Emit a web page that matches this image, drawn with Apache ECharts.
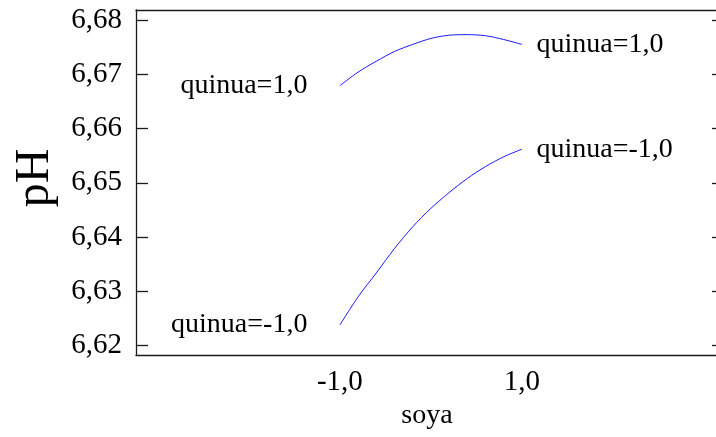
<!DOCTYPE html>
<html>
<head>
<meta charset="utf-8">
<script src="https://cdn.jsdelivr.net/npm/echarts@6/dist/echarts.min.js"></script>
<style>
  html, body { margin: 0; padding: 0; background: #fff; overflow: hidden; }
  #chart { width: 716px; height: 437px; }
</style>
</head>
<body>
<div id="chart"></div>
<script>
// soya levels (coded) at which pH was evaluated
const soya = [-1.0, -0.8, -0.6, -0.4, -0.2, 0.0, 0.2, 0.4, 0.6, 0.8, 1.0];
// predicted pH with quinua at its high level (+1)
const phQuinuaHigh = [6.6679, 6.6704, 6.6724, 6.6742, 6.6755, 6.6766, 6.6772, 6.6773, 6.6771, 6.6764, 6.6755];
// predicted pH with quinua at its low level (-1)
const phQuinuaLow = [6.6238, 6.6290, 6.6334, 6.6379, 6.6419, 6.6453, 6.6482, 6.6508, 6.6530, 6.6548, 6.6562];
// axis ticks
const yTicks = [6.62, 6.63, 6.64, 6.65, 6.66, 6.67, 6.68];
const xTicks = [-1.0, 1.0];
const seriesNames = ['quinua=1,0', 'quinua=-1,0'];

const FONT = '"Liberation Serif", "Times New Roman", serif';
const fmt = v => v.toFixed(v === Math.round(v) ? 1 : 2).replace('.', ',');

// first and last points carry the series name as a label
function buildData(values, name) {
  return soya.map((s, i) => {
    const item = { value: [s, values[i]] };
    if (i === 0) {
      item.label = { show: true, position: 'left', distance: 32, formatter: name };
    } else if (i === soya.length - 1) {
      item.label = { show: true, position: 'right', distance: 14, formatter: name };
    }
    return item;
  });
}

const chart = echarts.init(document.getElementById('chart'));
const axisColor = '#1a1a1a';
const frameLine = { show: true, onZero: false, lineStyle: { color: axisColor, width: 1.3 } };
const innerTicks = { show: true, inside: true, length: 12, customValues: yTicks, lineStyle: { color: axisColor, width: 1.3 } };

function lineSeries(name, values) {
  return {
    name: name, type: 'line', xAxisIndex: 0, yAxisIndex: 0,
    data: buildData(values, name),
    smooth: 0.3, showSymbol: true, showAllSymbol: true, symbol: 'circle', symbolSize: 1,
    clip: false,
    itemStyle: { color: 'rgba(0,0,0,0)' },
    lineStyle: { color: '#1a1aff', width: 1 },
    label: { show: false, fontFamily: FONT, fontSize: 28, color: '#000' },
    emphasis: { disabled: true }
  };
}

chart.setOption({
  animation: false,
  backgroundColor: '#ffffff',
  grid: { left: 136, top: 10, width: 588, height: 345, containLabel: false, outerBoundsMode: 'none' },
  xAxis: [
    {
      type: 'value', position: 'bottom', min: -3.24, max: 3.22,
      name: 'soya', nameLocation: 'middle', nameGap: 41,
      nameTextStyle: { fontFamily: FONT, fontSize: 28, color: '#000', padding: [0, 6, 0, 0] },
      axisLine: frameLine,
      axisTick: { show: false },
      splitLine: { show: false },
      axisLabel: {
        customValues: xTicks, formatter: fmt, margin: 13,
        fontFamily: FONT, fontSize: 29, color: '#000'
      }
    },
    {
      type: 'value', position: 'top', min: -3.24, max: 3.22,
      axisLine: frameLine,
      axisTick: { show: false }, axisLabel: { show: false }, splitLine: { show: false }
    }
  ],
  yAxis: [
    {
      type: 'value', position: 'left', min: 6.61828, max: 6.68184,
      name: 'pH', nameLocation: 'middle', nameGap: 77, nameRotate: 90,
      nameTextStyle: { fontFamily: FONT, fontSize: 48, color: '#000', padding: [0, 0, 0, 9] },
      axisLine: frameLine,
      axisTick: innerTicks,
      splitLine: { show: false },
      axisLabel: {
        customValues: yTicks, formatter: fmt, margin: 14,
        fontFamily: FONT, fontSize: 29, color: '#000'
      }
    },
    {
      type: 'value', position: 'right', min: 6.61828, max: 6.68184,
      axisLine: frameLine,
      axisTick: innerTicks,
      axisLabel: { show: false }, splitLine: { show: false }
    }
  ],
  series: [
    lineSeries(seriesNames[0], phQuinuaHigh),
    lineSeries(seriesNames[1], phQuinuaLow)
  ]
});
</script>
</body>
</html>
